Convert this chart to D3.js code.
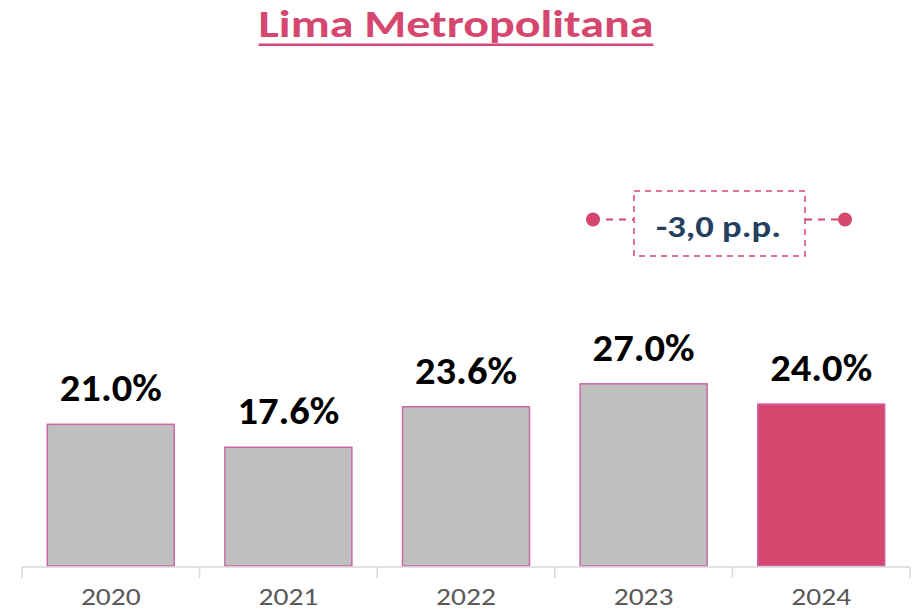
<!DOCTYPE html>
<html><head><meta charset="utf-8">
<script src="https://cdn.jsdelivr.net/npm/d3@7"></script>
<style>body{margin:0;background:#fff}svg{display:block}</style>
</head><body>
<svg id="chart" width="917" height="614"></svg>
<script>
const categories = ["2020","2021","2022","2023","2024"];
const values = [21.0, 17.6, 23.6, 27.0, 24.0];
const valueLabels = ["21.0%","17.6%","23.6%","27.0%","24.0%"];
const title = "Lima Metropolitana";
const changeLabel = "-3,0 p.p.";

const W = 917, H = 614;
const svg = d3.select("#chart");
const pink = "#D5476F";
const font = "Carlito, Calibri, Lato, 'Open Sans', sans-serif";

function stretch(sel, factor) {
  sel.each(function () {
    const len = this.getComputedTextLength();
    d3.select(this).attr("textLength", len * factor).attr("lengthAdjust", "spacingAndGlyphs");
  });
}

const x = d3.scaleBand().domain(categories).range([22, 910]).paddingInner(0.285).paddingOuter(0.1425);
const y = d3.scaleLinear().domain([0, 75]).range([566, 60]);

// title
const t = svg.append("text").attr("x", 456).attr("y", 37).attr("text-anchor", "middle")
  .attr("font-family", font).attr("font-weight", "bold").attr("font-size", 37.5)
  .attr("fill", pink).text(title);
stretch(t, 1.28);
const tb = t.node().getBBox();
svg.append("rect").attr("x", tb.x).attr("y", 43.5).attr("width", tb.width).attr("height", 2.5).attr("fill", pink);

// bars
svg.selectAll("rect.bar").data(values).join("rect").attr("class", "bar")
  .attr("x", (d, i) => x(categories[i]))
  .attr("y", d => y(d))
  .attr("width", x.bandwidth())
  .attr("height", d => y(0) - y(d))
  .attr("fill", (d, i) => i === categories.length - 1 ? pink : "#BFBFBF")
  .attr("stroke", "#CC66A8").attr("stroke-width", 1.5);

// value labels
const vl = svg.selectAll("text.val").data(values).join("text").attr("class", "val")
  .attr("x", (d, i) => x(categories[i]) + x.bandwidth() / 2)
  .attr("y", d => y(d) - 23)
  .attr("text-anchor", "middle").attr("font-family", font).attr("font-weight", "bold")
  .attr("font-size", 37.5).attr("fill", "#000")
  .text((d, i) => valueLabels[i]);
stretch(vl, 1.08);

// axis
const axis = d3.axisBottom(x).tickSize(0).tickPadding(0);
const gx = svg.append("g").attr("transform", `translate(0,${y(0) + 1})`).call(axis);
gx.select(".domain").remove();
gx.append("line").attr("x1", 22).attr("x2", 910).attr("stroke", "#D9D9D9").attr("stroke-width", 1.5);
const step = x.step();
const boundaries = categories.map(c => x(c) - x.paddingInner() * step / 2);
boundaries.push(x(categories[categories.length - 1]) + x.bandwidth() + x.paddingInner() * step / 2);
gx.selectAll("line.tk").data(boundaries).join("line").attr("class", "tk")
  .attr("x1", d => d).attr("x2", d => d).attr("y1", 0).attr("y2", 11)
  .attr("stroke", "#D9D9D9").attr("stroke-width", 1.5);
const tt = gx.selectAll(".tick text").attr("y", 38).attr("dy", 0)
  .attr("font-family", font).attr("font-size", 25).attr("fill", "#595959");
stretch(tt, 1.18);

// annotation
const ay = 219.5;
const xL = 593, xR = 845;
const bx0 = 634, bx1 = 805, by0 = 191, by1 = 256;
svg.append("line").attr("x1", xL).attr("x2", bx0).attr("y1", ay).attr("y2", ay)
  .attr("stroke", pink).attr("stroke-width", 2).attr("stroke-dasharray", "7,6");
svg.append("line").attr("x1", bx1).attr("x2", xR).attr("y1", ay).attr("y2", ay)
  .attr("stroke", pink).attr("stroke-width", 2).attr("stroke-dasharray", "7,6");
svg.append("rect").attr("x", bx0).attr("y", by0).attr("width", bx1 - bx0).attr("height", by1 - by0)
  .attr("fill", "#fff").attr("stroke", pink).attr("stroke-width", 1.5).attr("stroke-dasharray", "6,5");
svg.append("circle").attr("cx", xL).attr("cy", ay).attr("r", 7).attr("fill", pink);
svg.append("circle").attr("cx", xR).attr("cy", ay).attr("r", 7).attr("fill", pink);
const at = svg.append("text").attr("x", (bx0 + bx1) / 2 - 1).attr("y", 237).attr("text-anchor", "middle")
  .attr("font-family", font).attr("font-weight", "bold").attr("font-size", 30.5).attr("fill", "#243F60")
  .text(changeLabel);
stretch(at, 1.2);
</script>
</body></html>
